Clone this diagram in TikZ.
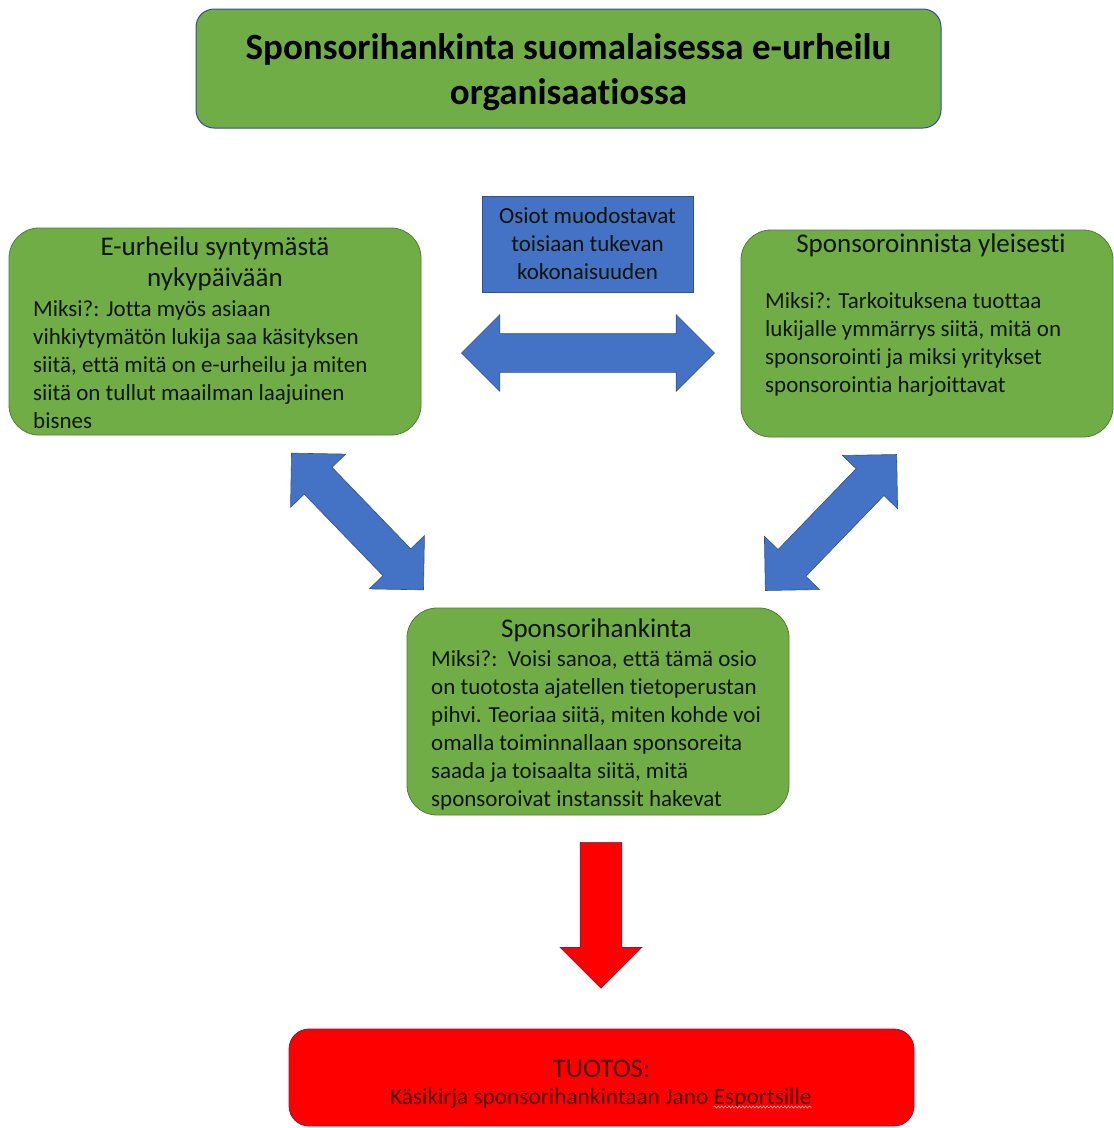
\documentclass[tikz,border=0pt]{standalone}
\usepackage{fontspec}
\setmainfont{Carlito}[Ligatures=NoCommon]
\usetikzlibrary{shapes.arrows,positioning,decorations.pathmorphing}

\definecolor{officegreen}{HTML}{70AD47}
\definecolor{greenedge}{HTML}{507E32}
\definecolor{officeblue}{HTML}{4472C4}
\definecolor{blueedge}{HTML}{2F528F}
\definecolor{officered}{HTML}{FF0000}
\definecolor{rededge}{HTML}{7A2048}
\definecolor{darktext}{HTML}{111508}
\definecolor{redtext}{HTML}{4A0000}

\tikzset{
  greenbox/.style={draw=greenedge, line width=0.8pt, fill=officegreen, rounded corners=30pt},
  headline/.style={font=\fontsize{27}{31}\selectfont, text=darktext, inner sep=0pt, align=center},
  bodytext/.style={font=\fontsize{23}{28}\selectfont, text=darktext, inner sep=0pt, align=left},
  bluearrow/.style={double arrow, double arrow head extend=19pt, inner xsep=0pt, inner ysep=19pt,
    fill=officeblue, draw=blueedge, line width=0.6pt},
  redline/.style={font=\fontsize{23.3}{29}\selectfont, text=redtext, inner sep=0pt},
}

\begin{document}
\begin{tikzpicture}[x=1pt, y=-1pt]
\useasboundingbox (0,0) rectangle (1114,1128);

% otsikko
\node[draw=blueedge, line width=1pt, fill=officegreen, rounded corners=18pt,
  minimum width=745pt, minimum height=119pt] (title) at (568.5,68.5) {};
\node[font=\fontsize{37}{45}\selectfont\bfseries, align=center, inner sep=0pt] (titletext)
  at (568.5,72) {Sponsorihankinta suomalaisessa e-urheilu\\organisaatiossa};

% osiot
\node[draw=blueedge, line width=0.8pt, fill=officeblue, minimum width=211pt, minimum height=96pt,
  font=\fontsize{23}{28}\selectfont, text=darktext, align=center] (note) at (587.5,244)
  {Osiot muodostavat\\toisiaan tukevan\\kokonaisuuden};

\node[greenbox, minimum width=412pt, minimum height=207pt] (history) at (215,331.5) {};
\node[headline, anchor=north] (historyhead) at (215,237) {E-urheilu syntymästä\\nykypäivään};
\node[bodytext, anchor=north west] (historybody) at (33,300.4)
  {Miksi?: Jotta myös asiaan\\vihkiytymätön lukija saa käsityksen\\siitä, että mitä on e-urheilu ja miten\\siitä on tullut maailman laajuinen\\bisnes};

\node[greenbox, minimum width=372pt, minimum height=207pt] (general) at (927,333.5) {};
\node[headline, anchor=base] (generalhead) at (931,252.8) {Sponsoroinnista yleisesti};
\node[bodytext, anchor=north west] (generalbody) at (765,292.4)
  {Miksi?: Tarkoituksena tuottaa\\lukijalle ymmärrys siitä, mitä on\\sponsorointi ja miksi yritykset\\sponsorointia harjoittavat};

\node[greenbox, minimum width=382pt, minimum height=207pt] (sourcing) at (598,711.5) {};
\node[headline, anchor=base] (sourcinghead) at (596.5,637.8) {Sponsorihankinta};
\node[bodytext, anchor=north west] (sourcingbody) at (431,650.4)
  {Miksi?:\ \ Voisi sanoa, että tämä osio\\on tuotosta ajatellen tietoperustan\\pihvi. Teoriaa siitä, miten kohde voi\\omalla toiminnallaan sponsoreita\\saada ja toisaalta siitä, mitä\\sponsoroivat instanssit hakevat};

% nuolet
\node[bluearrow, minimum height=253pt] (linkh) at (588,353) {};
\node[bluearrow, minimum height=190pt, rotate=-46] (linkl) at (357.5,521.5) {};
\node[bluearrow, minimum height=189pt, rotate=46] (linkr) at (831,522.5) {};
\node[single arrow, single arrow head extend=20pt, inner xsep=0pt, inner ysep=20.5pt,
  fill=officered, draw=rededge, line width=0.6pt, minimum height=146pt, rotate=-90,
  anchor=tail] (down) at (601,842) {};

% tuotos
\node[draw=rededge, line width=0.8pt, fill=officered, rounded corners=20pt,
  minimum width=625pt, minimum height=97pt] (output) at (601.5,1077.5) {};
\node[redline, font=\fontsize{27}{30}\selectfont, anchor=base] (outputhead) at (601.5,1077) {TUOTOS:};
\node[redline, anchor=base west] (outputtext) at (390,1104.5) {Käsikirja sponsorihankintaan Jano};
\node[redline, anchor=base west, xshift=5pt] (esports) at (outputtext.base east) {Esportsille};
\draw[red!35!white, line width=0.7pt, decorate, decoration={snake, amplitude=1pt, segment length=3.5pt}]
  ([yshift=-2.5pt]esports.base west) -- ([yshift=-2.5pt]esports.base east);
\end{tikzpicture}
\end{document}
